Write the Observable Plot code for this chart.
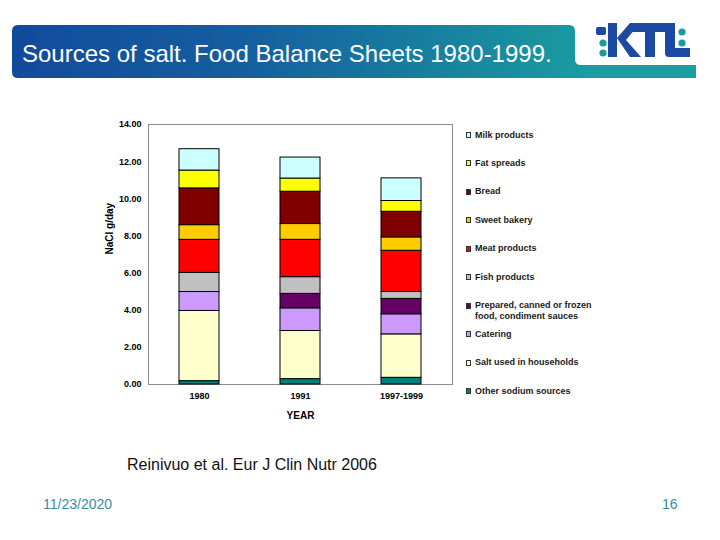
<!DOCTYPE html>
<html><head><meta charset="utf-8">
<script src="https://cdn.jsdelivr.net/npm/d3@7"></script>
<script src="https://cdn.jsdelivr.net/npm/@observablehq/plot@0.6"></script>
<style>
html,body{margin:0;padding:0;}
body{width:720px;height:540px;position:relative;background:#fff;font-family:"Liberation Sans",Arial,sans-serif;overflow:hidden}
#banner{position:absolute;left:0;top:0}
#title{position:absolute;left:22px;top:42px;color:#fff;font-size:24px;white-space:nowrap;line-height:1}
#chart{position:absolute;left:100px;top:110px}
.leg{position:absolute;left:466px;font-size:9px;font-weight:bold;color:#1a1a1a;line-height:11px;width:150px}
.leg .sw{position:absolute;left:0;top:2.5px;width:5px;height:6px;box-sizing:border-box;border:0.5px solid #333}
.leg .tx{position:absolute;left:9px;top:0;width:132px}
#source{position:absolute;left:127px;top:457px;font-size:16px;color:#111;white-space:nowrap;line-height:1}
#date{position:absolute;left:43px;top:497px;font-size:14px;color:#3a8c9c;line-height:1}
#page{position:absolute;left:662px;top:497px;font-size:14px;color:#3a8c9c;line-height:1}
</style></head><body>
<svg id="banner" width="720" height="90">
  <defs>
    <linearGradient id="g" x1="12" x2="600" y1="0" y2="0" gradientUnits="userSpaceOnUse">
      <stop offset="0" stop-color="#124a9c"/>
      <stop offset="0.4" stop-color="#155f9f"/>
      <stop offset="1" stop-color="#1a9ea0"/>
    </linearGradient>
  </defs>
  <path d="M18,25 H569 Q575,25 575,31 V59 Q575,65 581,65 H696 V78 H18 Q12,78 12,72 V31 Q12,25 18,25 Z" fill="url(#g)"/>
  <g fill="#1c4aa2">
    <rect x="596" y="27" width="10" height="8" rx="2"/>
    <rect x="608" y="23" width="9" height="34"/>
    <path d="M617,38 L630,23 L640,23 L626,40 L641,57 L630,57 Z"/>
    <rect x="633" y="23" width="34" height="9"/>
    <rect x="645" y="23" width="10" height="34"/>
    <path d="M665,23 H675 V48 H690 V57 H669 Q665,57 665,53 Z"/>
  </g>
  <g fill="#1a9a9a">
    <circle cx="603" cy="43" r="3.6"/>
    <circle cx="603" cy="53" r="3.6"/>
    <circle cx="682" cy="32" r="3.6"/>
    <circle cx="682" cy="43" r="3.6"/>
  </g>
</svg>
<div id="title">Sources of salt. Food Balance Sheets 1980-1999.</div>
<div id="chart"></div>
<div id="legend"></div>
<div id="source">Reinivuo et al. Eur J Clin Nutr 2006</div>
<div id="date">11/23/2020</div>
<div id="page">16</div>
<script>
// Data
const years = ["1980", "1991", "1997-1999"];
const categories = [
  "Other sodium sources",
  "Salt used in households",
  "Catering",
  "Prepared, canned or frozen food, condiment sauces",
  "Fish products",
  "Meat products",
  "Sweet bakery",
  "Bread",
  "Fat spreads",
  "Milk products"
];
const colors = ["#008080", "#FFFFCC", "#CC99FF", "#660066", "#C0C0C0", "#FF0000", "#FFCC00", "#800000", "#FFFF00", "#CCFFFF"];
const otherSodium = [0.18, 0.29, 0.36];
const saltHouseholds = [3.78, 2.59, 2.34];
const catering = [1.02, 1.22, 1.08];
const prepared = [0, 0.78, 0.83];
const fish = [1.03, 0.90, 0.37];
const meat = [1.78, 2.01, 2.22];
const sweetBakery = [0.79, 0.85, 0.72];
const bread = [1.98, 1.74, 1.38];
const fatSpreads = [0.96, 0.71, 0.58];
const milk = [1.15, 1.13, 1.22];
const yTicks = [0, 2, 4, 6, 8, 10, 12, 14];
const legendLabels = ["Milk products", "Fat spreads", "Bread", "Sweet bakery", "Meat products", "Fish products",
  "Prepared, canned or frozen food, condiment sauces", "Catering", "Salt used in households", "Other sodium sources"];

const series = [otherSodium, saltHouseholds, catering, prepared, fish, meat, sweetBakery, bread, fatSpreads, milk];
const data = [];
years.forEach((yr, i) => {
  series.forEach((s, k) => {
    if (s[i] > 0) data.push({year: yr, category: categories[k], value: s[i]});
  });
});

const font = "'Liberation Sans', Arial, sans-serif";
const chart = Plot.plot({
  width: 360, height: 315,
  marginLeft: 48, marginRight: 8, marginTop: 14, marginBottom: 41,
  style: {fontFamily: font, background: "transparent", color: "#000"},
  x: {domain: years, paddingInner: 0.6, paddingOuter: 0.3, label: null},
  y: {domain: [0, 14], label: null},
  color: {domain: categories, range: colors},
  marks: [
    Plot.frame({stroke: "#8c8c8c"}),
    Plot.barY(data, {x: "year", y: "value", fill: "category", stroke: "#000", strokeWidth: 1, order: null}),
    Plot.axisY(yTicks, {tickSize: 0, tickPadding: 7, tickFormat: d => d.toFixed(2), fontSize: 9, fontWeight: "bold", label: null}),
    Plot.axisX({tickSize: 0, tickPadding: 8, fontSize: 9, fontWeight: "bold", label: null}),
    Plot.text(["YEAR"], {frameAnchor: "bottom", dy: 31, fontSize: 10, fontWeight: "bold", lineAnchor: "middle"}),
    Plot.text(["NaCl g/day"], {frameAnchor: "left", dx: -39, rotate: -90, fontSize: 10, fontWeight: "bold", lineAnchor: "middle"})
  ]
});
document.getElementById("chart").appendChild(chart);

// Legend
const legend = document.getElementById("legend");
legendLabels.forEach((lab, i) => {
  const k = categories.indexOf(lab);
  const item = document.createElement("div");
  item.className = "leg";
  item.style.top = (135 + i * 28.45 - 5.5) + "px";
  const sw = document.createElement("div");
  sw.className = "sw";
  sw.style.background = colors[k];
  const tx = document.createElement("div");
  tx.className = "tx";
  tx.textContent = lab;
  item.appendChild(sw); item.appendChild(tx);
  legend.appendChild(item);
});
</script>
</body></html>
